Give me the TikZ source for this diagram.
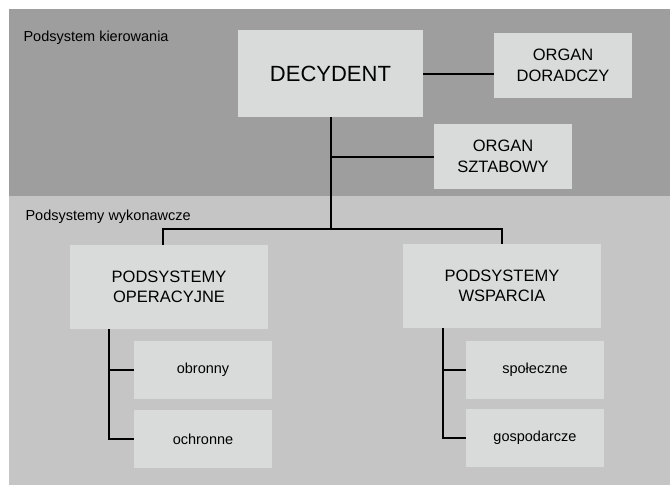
\documentclass[tikz,border=0pt]{standalone}
\usepackage{fontspec}
\setmainfont{Liberation Sans}
\definecolor{upperbg}{HTML}{9E9E9E}
\definecolor{lowerbg}{HTML}{C4C5C4}
\definecolor{boxfill}{HTML}{D9DBDA}

\begin{document}
\begin{tikzpicture}[x=1pt,y=-1pt,
	box/.style={fill=boxfill,inner sep=0pt,align=center,font=\fontsize{16.5}{20.5}\selectfont},
	subbox/.style={box,minimum width=138pt,minimum height=58pt,font=\fontsize{14.5}{17}\selectfont},
	area/.style={anchor=base west,font=\fontsize{14.5}{17}\selectfont},
	link/.style={line width=2pt}]
	\useasboundingbox (0,0) rectangle (670,485);

	% two subsystem areas
	\fill[upperbg] (9,9) rectangle (670,196);
	\fill[lowerbg] (9,196) rectangle (670,485);
	\node[area] (kier) at (20,41.5) {Podsystem kierowania};
	\node[area] (wyk) at (22,220) {Podsystemy wykonawcze};

	% management
	\node[box,minimum width=185pt,minimum height=87pt,font=\fontsize{22}{26}\selectfont] (decydent) at (330.5,73.5) {DECYDENT};
	\node[box,minimum width=138pt,minimum height=65pt] (doradczy) at (563,65.5) {ORGAN\\DORADCZY};
	\node[box,minimum width=138pt,minimum height=65pt] (sztabowy) at (503,156.5) {ORGAN\\SZTABOWY};

	% executive subsystems
	\node[box,minimum width=198pt,minimum height=84pt] (operacyjne) at (169,287) {PODSYSTEMY\\OPERACYJNE};
	\node[box,minimum width=198pt,minimum height=84pt] (wsparcia) at (502,286) {PODSYSTEMY\\WSPARCIA};
	\node[subbox] (obronny) at (203,370) {obronny};
	\node[subbox] (ochronne) at (203,439) {ochronne};
	\node[subbox] (spoleczne) at (535,370) {społeczne};
	\node[subbox] (gospodarcze) at (535,438) {gospodarcze};

	\coordinate (split) at (330.5,229);
	\coordinate (opstem) at (163,229);
	\coordinate (wspstem) at (502,229);
	\coordinate (opbranch) at (109,329);
	\coordinate (wspbranch) at (443,328);

	\draw[link] (decydent.east) -- (decydent.east -| doradczy.west);
	\draw[link] (decydent.south) -- (split);
	\draw[link] (decydent.south |- sztabowy.west) -- (sztabowy.west);
	\draw[link] (operacyjne.north -| opstem) -- (opstem) -- (wspstem) -- (wsparcia.north);
	\draw[link] (opbranch) |- (obronny.west);
	\draw[link] (opbranch) |- (ochronne.west);
	\draw[link] (wspbranch) |- (spoleczne.west);
	\draw[link] (wspbranch) |- (gospodarcze.west);
\end{tikzpicture}
\end{document}
